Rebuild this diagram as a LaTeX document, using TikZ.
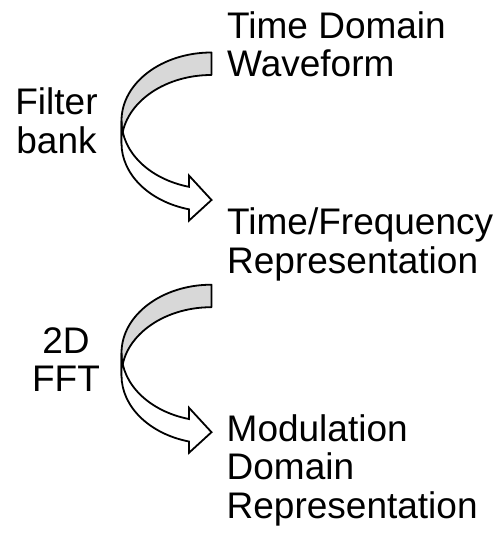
\documentclass[tikz,border=0pt]{standalone}
\usepackage{fontspec}
\setmainfont{Liberation Sans}
\definecolor{bandgray}{RGB}{216,216,216}
\tikzset{
  lbl/.style={font=\fontsize{37}{38.4}\selectfont, inner sep=0pt, anchor=base west},
  clbl/.style={font=\fontsize{37}{38.4}\selectfont, inner sep=0pt, anchor=base},
  backband/.style={fill=bandgray, draw=black, line width=1.8pt, line join=round},
  frontband/.style={fill=white, draw=black, line width=1.8pt, line join=miter},
}
% Curved arrow: back band (grey) sweeping left, front band (white) ending in a head.
% The top edge of the shape sits at y = 0 inside the scope.
\newcommand\bentarrow{%
  \path[backband] (211.5,0)
    arc[start angle=90, end angle=180, x radius=90pt, y radius=68.25pt]
    -- (121.5,-90.75)
    arc[start angle=180, end angle=90, x radius=90pt, y radius=68.25pt]
    -- cycle;
  \path[frontband] (121.5,-68.25)
    arc[start angle=180, end angle=255.52, x radius=90pt, y radius=68.25pt]
    -- (189,-123.08) -- (211.5,-147.5) -- (189,-168.08) -- (189,-156.83)
    arc[start angle=255.52, end angle=180, x radius=90pt, y radius=68.25pt]
    -- cycle;
}
\begin{document}
\begin{tikzpicture}[x=1pt, y=1pt]
  \useasboundingbox (0,0) rectangle (503,540);
  \fill[white] (0,0) rectangle (503,540);

  \begin{scope}[shift={(0,487.5)}]
    \bentarrow
  \end{scope}
  \begin{scope}[shift={(0,255.3)}]
    \bentarrow
  \end{scope}

  % stage names
  \node[lbl] (td1) at (227,501.8) {Time Domain};
  \node[lbl] (td2) at (227,463.4) {Waveform};
  \node[lbl] (tf1) at (227,305.2) {Time/Frequency};
  \node[lbl] (tf2) at (227,266.8) {Representation};
  \node[lbl] (md1) at (226.5,98.5) {Modulation};
  \node[lbl] (md2) at (226.5,60.1) {Domain};
  \node[lbl] (md3) at (226.5,21.7) {Representation};

  % operations
  \node[clbl] (fb1) at (56.5,425.2) {Filter};
  \node[clbl] (fb2) at (56.5,386.6) {bank};
  \node[clbl] (ff1) at (66,186.8) {2D};
  \node[clbl] (ff2) at (66,148.4) {FFT};
\end{tikzpicture}
\end{document}
